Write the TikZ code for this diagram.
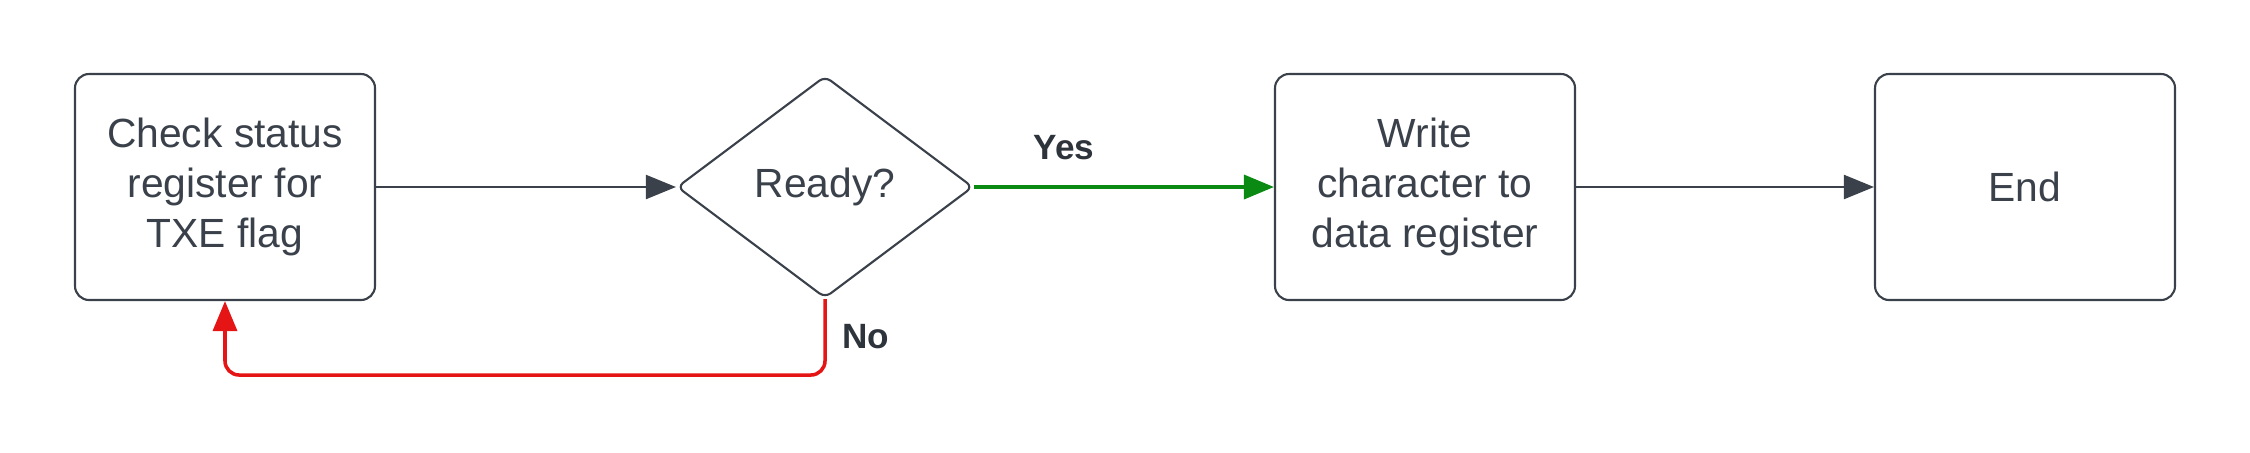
\documentclass[tikz,border=0pt]{standalone}
\usepackage{fontspec}
\setmainfont{Liberation Sans}
\usetikzlibrary{arrows.meta, shapes.geometric, positioning}
\definecolor{inkgray}{HTML}{3A414A}
\definecolor{yesgreen}{HTML}{0A8A12}
\definecolor{nored}{HTML}{E51515}
\tikzset{
    stepbox/.style={draw=inkgray, line width=0.6pt, rounded corners=4pt, minimum width=3cm, minimum height=2.26cm, align=center, text=inkgray, font=\fontsize{11.6}{14.2}\selectfont},
    decision/.style={draw=inkgray, line width=0.6pt, diamond, rounded corners=2pt, minimum width=2.96cm, minimum height=2.22cm, inner sep=0pt, text=inkgray, font=\fontsize{11.6}{14.2}\selectfont},
    flow/.style={-{Triangle[length=0.3cm, width=0.24cm]}, line width=0.6pt, draw=inkgray},
    branch/.style={font=\bfseries\fontsize{10}{12}\selectfont, text=inkgray!80!black}
}

\begin{document}
\begin{tikzpicture}
    \useasboundingbox (0, 0) rectangle (22.5, 4.52);
    \node[stepbox] (check) at (2.25, 2.65) {Check status\\register for\\TXE flag};
    \node[decision, aspect=1.336] (ready) at (8.25, 2.65) {Ready?};
    \node[stepbox] (write) at (14.25, 2.65) {Write\\character to\\data register};
    \node[stepbox] (end) at (20.25, 2.65) {End};
    \coordinate (loop) at (8.25, 0.77);

    \draw
    (check) edge[flow] (ready)
    (ready) edge[flow, draw=yesgreen, line width=1pt] node[branch, above, pos=0.3, yshift=4pt]{Yes} (write)
    (write) edge[flow] (end);
    \draw[flow, draw=nored, line width=1pt, rounded corners=4pt]
    (ready.south) -- node[branch, right, pos=0.5, xshift=1pt]{No} (loop) -| (check.south);
\end{tikzpicture}
\end{document}
